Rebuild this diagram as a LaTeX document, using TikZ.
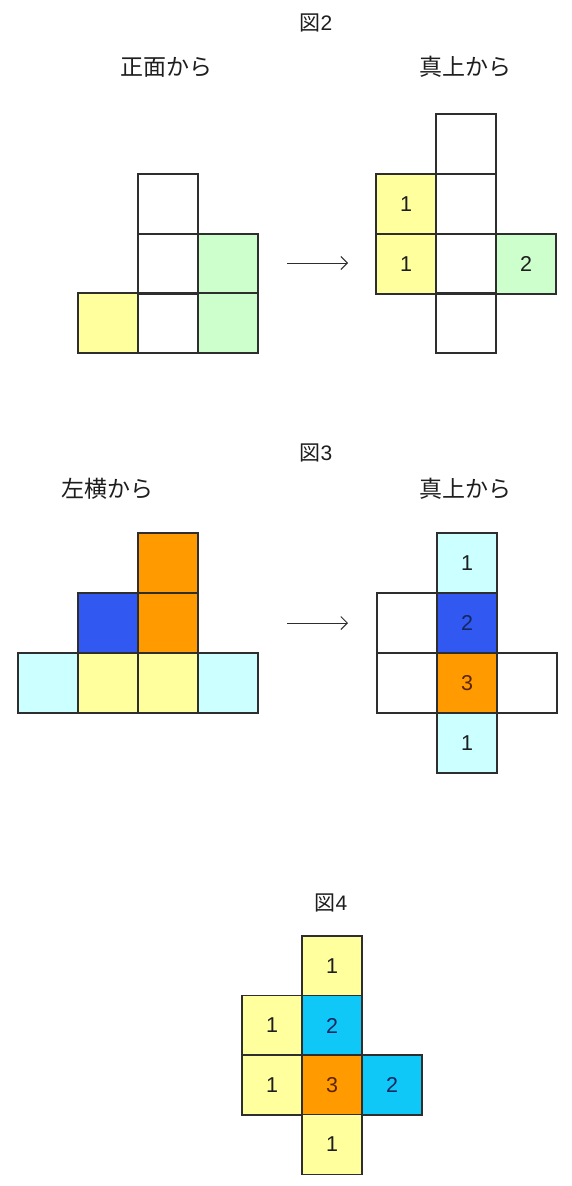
\documentclass[tikz,border=0pt]{standalone}
\usepackage{fontspec}
\setmainfont{Noto Sans CJK JP}
\newfontfamily\digitfont{Liberation Sans}
\usetikzlibrary{arrows.meta}
\definecolor{cyel}{HTML}{FFFF9E}
\definecolor{cgrn}{HTML}{CCFFCC}
\definecolor{clcy}{HTML}{CCFFFF}
\definecolor{cblu}{HTML}{3158F0}
\definecolor{corg}{HTML}{FF9A00}
\definecolor{ccya}{HTML}{10C8F8}
\definecolor{cline}{HTML}{2E2E2E}
\definecolor{ctxt}{HTML}{1E1E1E}
\definecolor{cnavy}{HTML}{162660}
\definecolor{cbrown}{HTML}{5A2500}
\tikzset{
  cell/.style={draw=cline, line width=1.2pt, minimum width=60pt, minimum height=60pt, inner sep=0pt, text=ctxt, font=\digitfont\fontsize{21.5}{21.5}\selectfont},
  title/.style={text=ctxt, font=\fontsize{21}{21}\selectfont},
  label/.style={text=ctxt, font=\fontsize{23}{23}\selectfont},
  conn/.style={draw=cline, line width=1pt, -{Straight Barb[length=6.5pt,width=13pt]}}
}
\begin{document}
\begin{tikzpicture}[x=1pt,y=-1pt]
\useasboundingbox[fill=white] (0,0) rectangle (571,1186);
% ---------- Figure 2 ----------
\node[title] (t2) at (316,23) {図{\digitfont 2}};
\node[label] (l2a) at (166,67) {正面から};
\node[label] (l2b) at (465,67) {真上から};
% front view
\node[cell] (f2a) at (168,204) {};
\node[cell] (f2b) at (168,264) {};
\node[cell] (f2c) at (168,323) {};
\node[cell, fill=cgrn] (f2d) at (228,264) {};
\node[cell, fill=cgrn] (f2e) at (228,323) {};
\node[cell, fill=cyel] (f2f) at (108,323) {};
% top view
\node[cell] (u2a) at (466,144) {};
\node[cell] (u2b) at (466,204) {};
\node[cell] (u2c) at (466,264) {};
\node[cell] (u2d) at (466,323) {};
\node[cell, fill=cyel] (u2e) at (406,204) {1};
\node[cell, fill=cyel] (u2f) at (406,264) {1};
\node[cell, fill=cgrn] (u2g) at (526,264) {2};
\coordinate (a2s) at (287,263);
\coordinate (a2e) at (348,263);
\draw[conn] (a2s) -- (a2e);
% ---------- Figure 3 ----------
\node[title] (t3) at (316,453) {図{\digitfont 3}};
\node[label] (l3a) at (107,489) {左横から};
\node[label] (l3b) at (465,489) {真上から};
% side view
\node[cell, fill=corg] (s3a) at (168,563) {};
\node[cell, fill=corg] (s3b) at (168,623) {};
\node[cell, fill=cblu] (s3c) at (108,623) {};
\node[cell, fill=clcy] (s3d) at (48,683) {};
\node[cell, fill=cyel] (s3e) at (108,683) {};
\node[cell, fill=cyel] (s3f) at (168,683) {};
\node[cell, fill=clcy] (s3g) at (228,683) {};
% top view
\node[cell] (u3e) at (407,623) {};
\node[cell] (u3f) at (407,683) {};
\node[cell] (u3g) at (527,683) {};
\node[cell, fill=clcy] (u3a) at (467,563) {1};
\node[cell, fill=cblu, text=cnavy] (u3b) at (467,623) {2};
\node[cell, fill=corg, text=cbrown] (u3c) at (467,683) {3};
\node[cell, fill=clcy] (u3d) at (467,743) {1};
\coordinate (a3s) at (287,623);
\coordinate (a3e) at (348,623);
\draw[conn] (a3s) -- (a3e);
% ---------- Figure 4 ----------
\node[title] (t4) at (331,903) {図{\digitfont 4}};
\node[cell, fill=cyel] (g4a) at (332,966) {1};
\node[cell, fill=ccya, text=cnavy] (g4b) at (332,1025.5) {2};
\node[cell, fill=corg, text=cbrown] (g4c) at (332,1085) {3};
\node[cell, fill=cyel] (g4d) at (332,1144.5) {1};
\node[cell, fill=cyel] (g4e) at (272,1025.5) {1};
\node[cell, fill=cyel] (g4f) at (272,1085) {1};
\node[cell, fill=ccya, text=cnavy] (g4g) at (392,1085) {2};
\end{tikzpicture}
\end{document}
